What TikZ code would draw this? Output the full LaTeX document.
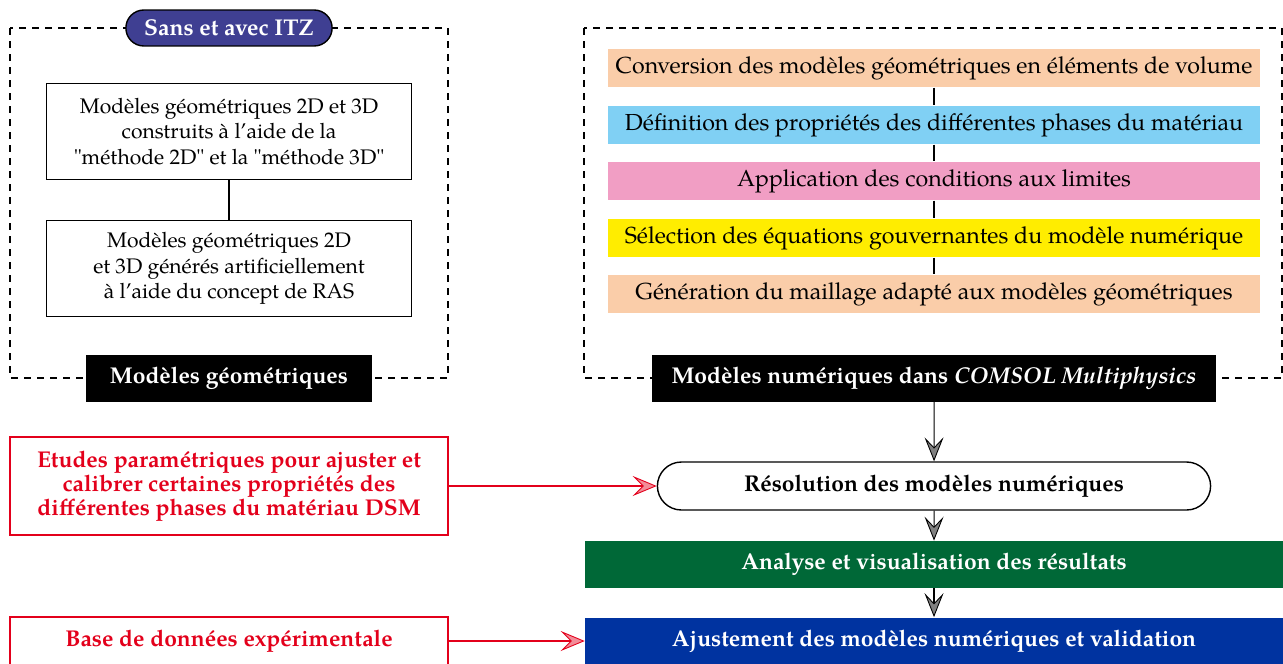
\documentclass[tikz,border=0pt]{standalone}
\usepackage{fontspec}
\setmainfont{TeX Gyre Pagella}
\usetikzlibrary{arrows.meta, positioning, shapes.misc}
\definecolor{itzViolet}{HTML}{3F3F92}
\definecolor{barPeach}{HTML}{FACDA9}
\definecolor{barSky}{HTML}{80D0F4}
\definecolor{barPink}{HTML}{F19EC4}
\definecolor{barYellow}{HTML}{FFED00}
\definecolor{resGreen}{HTML}{006837}
\definecolor{fitBlue}{HTML}{0033A0}
\definecolor{alertRed}{HTML}{E3001B}
\newcommand{\diagfont}{\fontsize{12}{14.5}\selectfont}
\newcommand{\headfont}{\fontsize{13}{13.8}\selectfont\bfseries}
\tikzset{
  groupframe/.style={draw, thick, dash pattern=on 3.8pt off 3.6pt},
  titlepill/.style={rounded rectangle, draw, thick, fill=itzViolet, text=white, font=\headfont, minimum height=0.72cm},
  geombox/.style={draw, thick, align=center, minimum width=7.3cm, minimum height=1.92cm},
  stepbar/.style={minimum width=13.06cm, minimum height=0.77cm, inner sep=1pt, font=\fontsize{13.2}{15}\selectfont},
  blacklabel/.style={fill=black, text=white, font=\headfont, minimum height=0.94cm},
  redbox/.style={draw=alertRed, thick, text=alertRed, font=\headfont, align=center, minimum width=8.76cm},
  flowarr/.style={-{Stealth[length=4.8mm, width=3.8mm, inset=2mm, fill=gray, line width=0.5pt]}, semithick},
  redarr/.style={-{Stealth[length=4.8mm, width=4mm, inset=2mm, fill=alertRed!45, line width=0.5pt]}, alertRed, semithick},
}

\begin{document}
\begin{tikzpicture}[x=0.02cm, y=-0.02cm, font=\diagfont]
  \useasboundingbox (0,0) rectangle (1283,663);
  \clip (0,0) rectangle (1283,663);
  % geometrie
  \draw[groupframe] (10,28) rectangle (448,378);
  \node[titlepill, minimum width=4.36cm] (itz) at (229,28) {Sans et avec ITZ};
  \node[geombox] (geo2d) at (229,131.5) {Modèles géométriques 2D et 3D\\construits à l’aide de la\\\textquotedbl méthode 2D\textquotedbl{} et la \textquotedbl méthode 3D\textquotedbl};
  \node[geombox] (georas) at (229,268.5) {Modèles géométriques 2D\\et 3D générés artificiellement\\à l’aide du concept de RAS};
  \draw[thick] (geo2d) -- (georas);
  \node[blacklabel, minimum width=5.74cm] (geolab) at (229,378) {Modèles géométriques};
  % COMSOL
  \draw[groupframe] (584,28) rectangle (1282,378);
  \foreach \i/\y/\c/\t in {1/68/barPeach/Conversion des modèles géométriques en éléments de volume,
      2/125/barSky/Définition des propriétés des différentes phases du matériau,
      3/181/barPink/Application des conditions aux limites,
      4/238/barYellow/Sélection des équations gouvernantes du modèle numérique,
      5/294/barPeach/Génération du maillage adapté aux modèles géométriques}{
    \node[stepbar, fill=\c] (bar\i) at (934,\y) {\t};}
  \foreach \i/\j in {1/2,2/3,3/4,4/5}{
    \draw[thick] (bar\i) -- (bar\j);}
  \node[blacklabel, minimum width=11.28cm] (numlab) at (934,378) {Modèles numériques dans \textit{COMSOL Multiphysics}};
  % resolution
  \node[rounded rectangle, draw, thick, font=\headfont, minimum width=11.3cm, minimum height=0.96cm] (resol) at (934,486) {Résolution des modèles numériques};
  \node[blacklabel, fill=resGreen, minimum width=13.96cm] (analyse) at (934,564.5) {Analyse et visualisation des résultats};
  \node[blacklabel, fill=fitBlue, minimum width=13.96cm] (ajust) at (934,641) {Ajustement des modèles numériques et validation};
  \draw[flowarr] (numlab) -- (resol);
  \draw[flowarr] (resol) -- (analyse);
  \draw[flowarr] (analyse) -- (ajust);
  % entrees
  \node[redbox, minimum height=1.96cm] (etudes) at (229,486) {Etudes paramétriques pour ajuster et\\calibrer certaines propriétés des\\différentes phases du matériau DSM};
  \node[redbox, minimum height=0.96cm] (base) at (229,641) {Base de données expérimentale};
  \draw[redarr] (etudes) -- (resol);
  \draw[redarr] (base) -- (ajust);
\end{tikzpicture}
\end{document}
